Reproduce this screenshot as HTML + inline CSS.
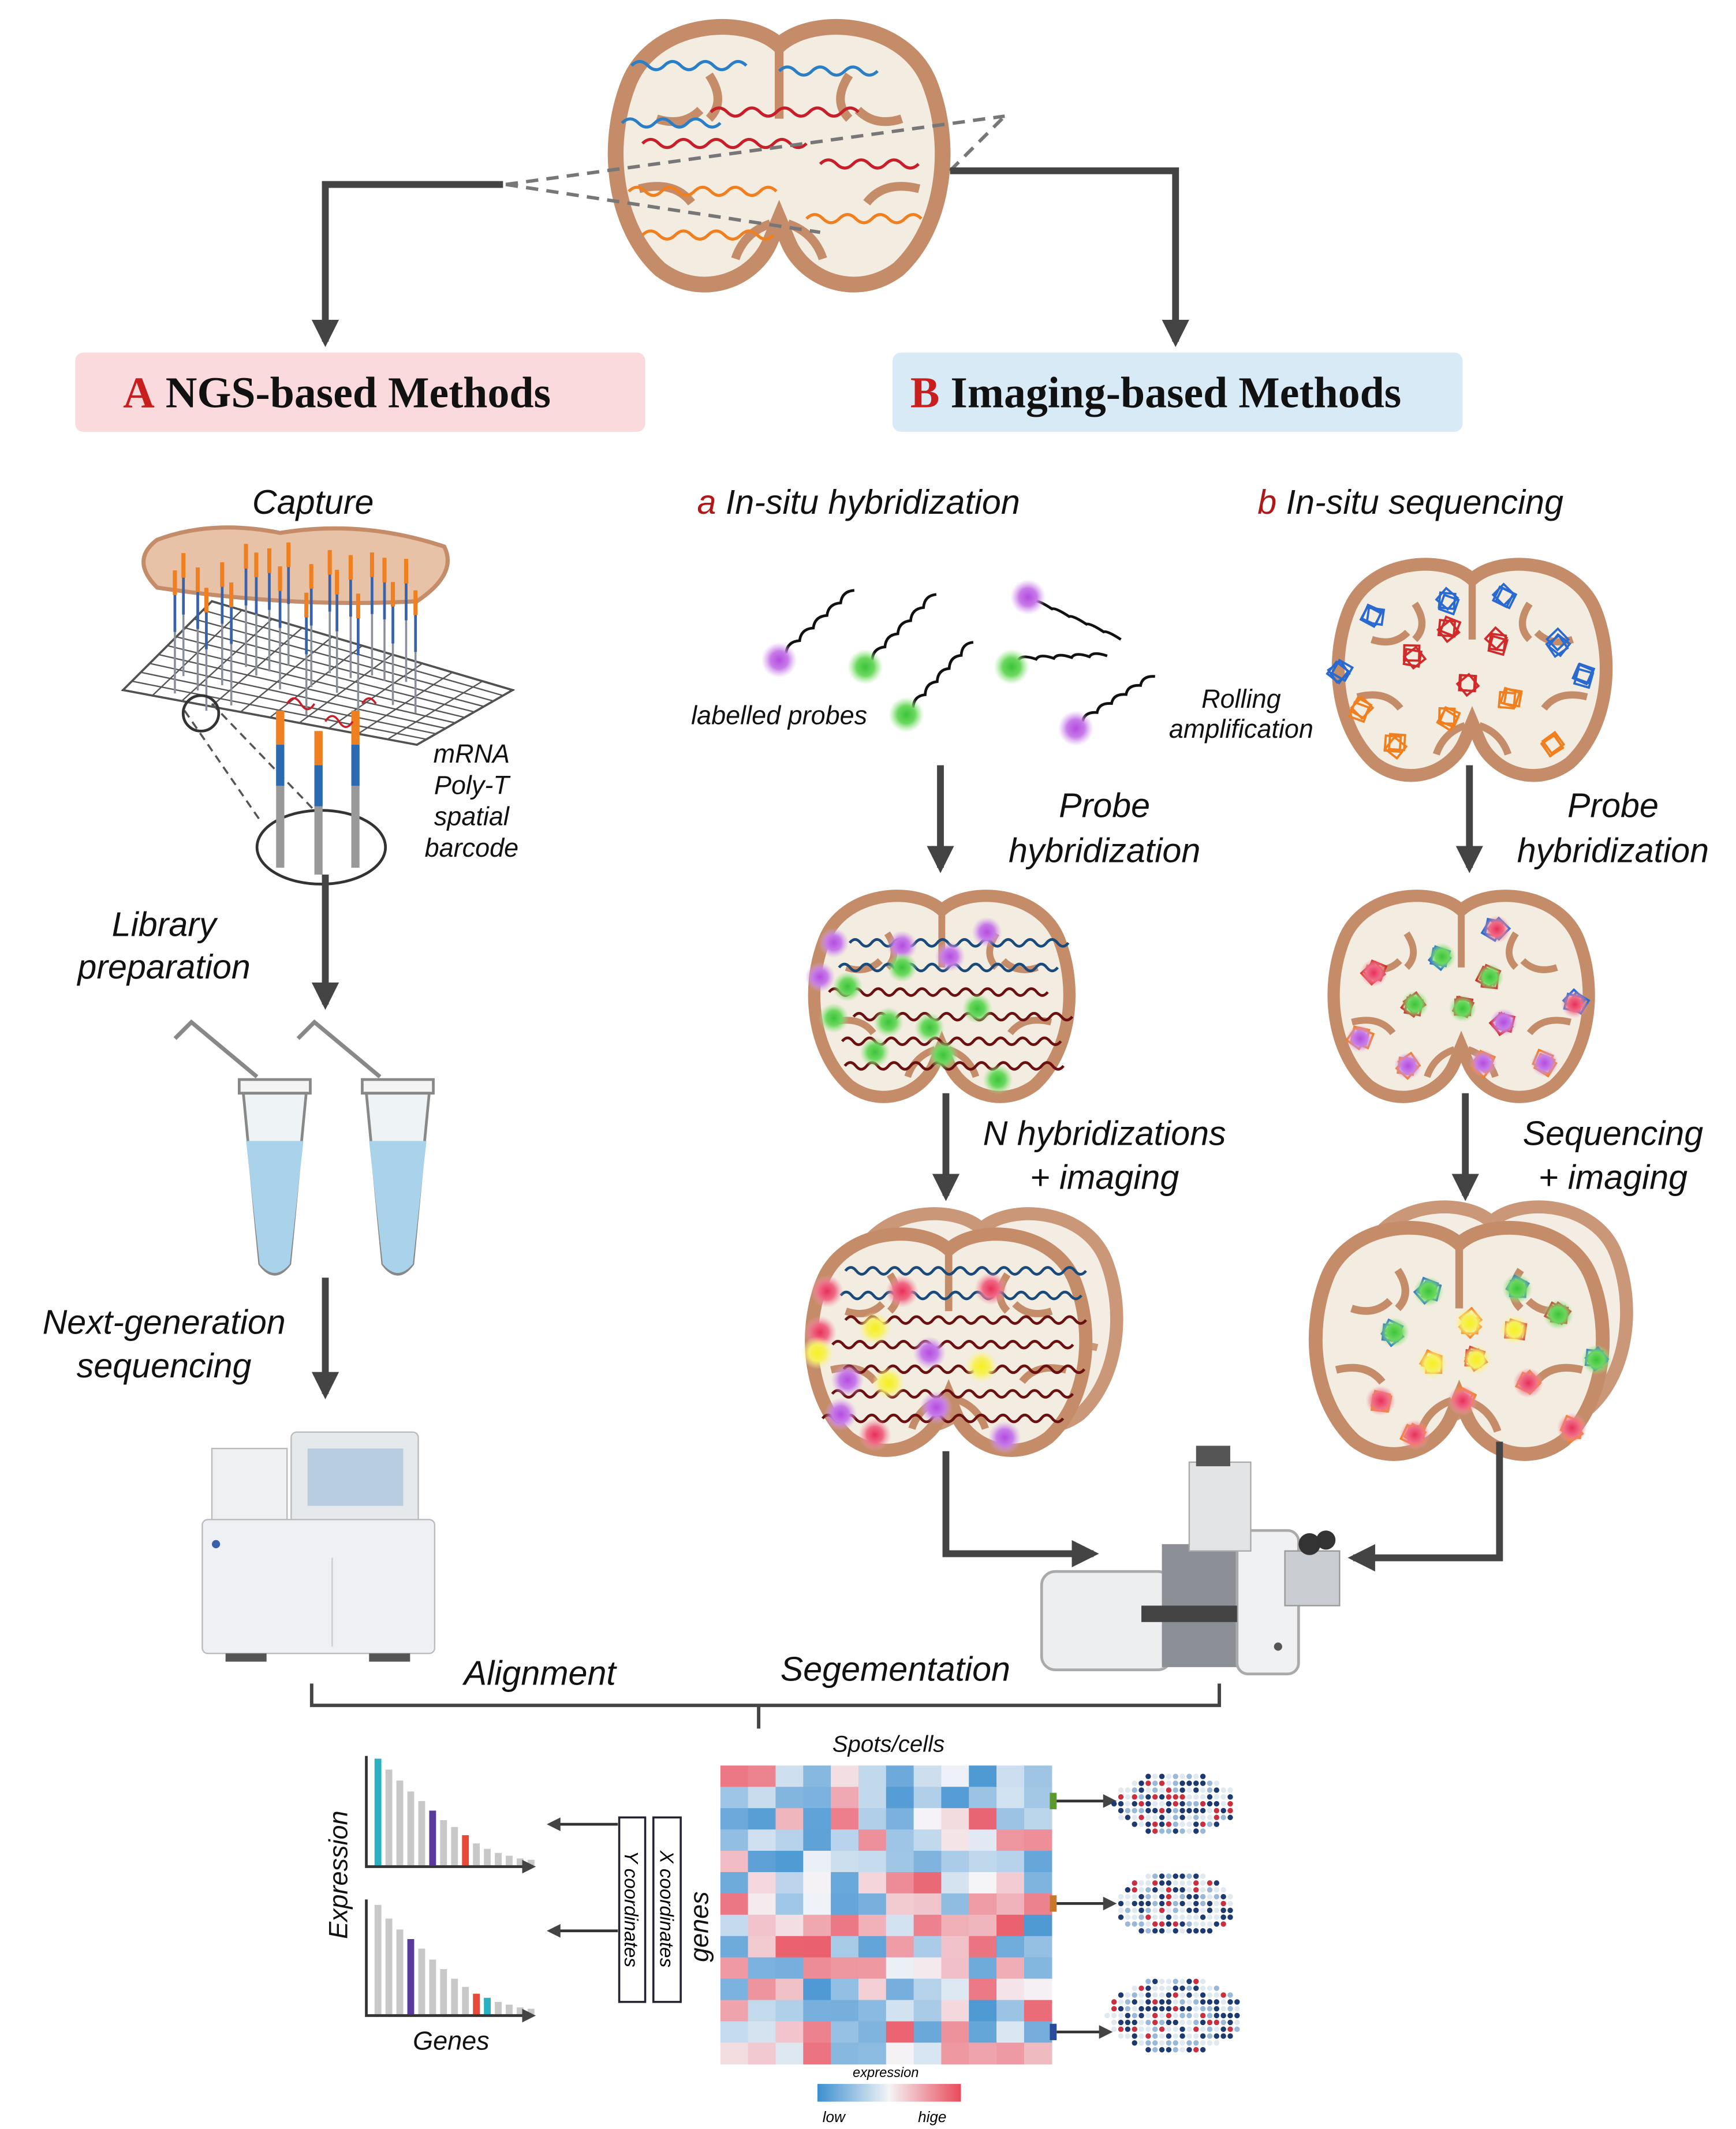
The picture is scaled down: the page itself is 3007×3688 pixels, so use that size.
<!DOCTYPE html>
<html><head><meta charset="utf-8"><style>
html,body{margin:0;padding:0;background:#fff}
svg{display:block}
.h{font-family:"Liberation Sans",sans-serif;font-style:italic;font-size:25px;fill:#111}
.s{font-family:"Liberation Sans",sans-serif;font-style:italic;font-size:19px;fill:#111}
.t{font-family:"Liberation Serif",serif;font-weight:bold;font-size:32px;fill:#111}
</style></head><body>
<svg id="S" width="3007" height="3688" viewBox="0 0 1270 1558" preserveAspectRatio="none" xmlns="http://www.w3.org/2000/svg">
<defs>
<marker id="ar" viewBox="0 0 10 10" refX="8" refY="5" markerWidth="4" markerHeight="4" orient="auto"><path d="M0,0L10,5L0,10z" fill="#444"/></marker>
<marker id="ar2" viewBox="0 0 10 10" refX="8" refY="5" markerWidth="5" markerHeight="5" orient="auto"><path d="M0,0L10,5L0,10z" fill="#444"/></marker>
<radialGradient id="gp"><stop offset="0" stop-color="#b34de0"/><stop offset=".5" stop-color="#c77be8"/><stop offset="1" stop-color="#d9a6f0" stop-opacity="0"/></radialGradient>
<radialGradient id="gg"><stop offset="0" stop-color="#3cc43a"/><stop offset=".5" stop-color="#6bd85f"/><stop offset="1" stop-color="#9be88a" stop-opacity="0"/></radialGradient>
<radialGradient id="gy"><stop offset="0" stop-color="#f5f020"/><stop offset=".5" stop-color="#f7f060"/><stop offset="1" stop-color="#faf5a0" stop-opacity="0"/></radialGradient>
<radialGradient id="gr"><stop offset="0" stop-color="#e8305a"/><stop offset=".5" stop-color="#ef6a85"/><stop offset="1" stop-color="#f5a0b0" stop-opacity="0"/></radialGradient>
<symbol id="brain" viewBox="0 0 200 160">
<path d="M100,18 C80,0 28,4 14,40 C0,76 6,122 32,146 C56,164 86,152 95,130 L100,118 L105,130 C114,152 144,164 168,146 C194,122 200,76 186,40 C172,4 120,0 100,18Z" fill="#f3ece0" stroke="#c58c6a" stroke-width="9"/>
<path d="M100,18 L100,60 M30,60 q15,5 25,-5 M170,60 q-15,5 -25,-5 M20,100 q20,-5 30,8 M180,100 q-20,-5 -30,8 M60,35 q10,15 0,25 M140,35 q-10,15 0,25 M75,140 q5,-15 20,-20 M125,140 q-5,-15 -20,-20" fill="none" stroke="#c58c6a" stroke-width="5"/>
</symbol>
</defs>

<use href="#brain" x="440" y="10" width="260" height="205"/>
<g fill="none" stroke-width="2.2">
<path d="M462,48 q6,-6 12,0 t12,0 t12,0 t12,0 t12,0 t12,0 t12,0" stroke="#2a7ec6"/>
<path d="M570,52 q6,-6 12,0 t12,0 t12,0 t12,0 t12,0 t12,0" stroke="#2a7ec6"/>
<path d="M455,90 q6,-6 12,0 t12,0 t12,0 t12,0 t12,0 t12,0" stroke="#2a7ec6"/>
<path d="M470,105 q6,-6 12,0 t12,0 t12,0 t12,0 t12,0 t12,0 t12,0 t12,0 t12,0 t12,0" stroke="#c81e2a"/>
<path d="M520,82 q6,-6 12,0 t12,0 t12,0 t12,0 t12,0 t12,0 t12,0 t12,0 t12,0" stroke="#c81e2a"/>
<path d="M600,120 q6,-6 12,0 t12,0 t12,0 t12,0 t12,0 t12,0" stroke="#c81e2a"/>
<path d="M460,140 q6,-6 12,0 t12,0 t12,0 t12,0 t12,0 t12,0 t12,0 t12,0 t12,0" stroke="#f07f20"/>
<path d="M470,172 q6,-6 12,0 t12,0 t12,0 t12,0 t12,0 t12,0 t12,0 t12,0" stroke="#f07f20"/>
<path d="M590,160 q6,-6 12,0 t12,0 t12,0 t12,0 t12,0 t12,0 t12,0" stroke="#f07f20"/>
</g>
<path d="M370,135 L735,85 M370,135 L600,170" stroke="#777" stroke-width="2.5" stroke-dasharray="9,6" fill="none"/>
<path d="M695,125 L735,85" stroke="#777" stroke-width="2.5" stroke-dasharray="9,6"/>
<path d="M368,135 H238 V250" stroke="#444" stroke-width="5" fill="none" marker-end="url(#ar)"/>
<path d="M695,125 H860 V250" stroke="#444" stroke-width="5" fill="none" marker-end="url(#ar)"/>

<rect x="55" y="258" width="417" height="58" rx="6" fill="#fadadd"/>
<text x="90" y="298" class="t"><tspan fill="#c81e1e">A</tspan>  NGS-based Methods</text>
<rect x="653" y="258" width="417" height="58" rx="6" fill="#d9eaf7"/>
<text x="666" y="298" class="t"><tspan fill="#c81e1e">B</tspan> Imaging-based Methods</text>

<text x="229" y="376" class="h" text-anchor="middle">Capture</text>
<text x="510" y="376" class="h"><tspan fill="#b01818">a</tspan>  In-situ hybridization</text>
<text x="920" y="376" class="h"><tspan fill="#b01818">b</tspan>  In-situ sequencing</text>

<path d="M90,505 L155,440 L375,505 L305,545 Z" fill="#fff" stroke="#333" stroke-width="1.5"/>
<g id="grid" stroke="#555" stroke-width="1" fill="none"></g>
<path d="M115,395 q40,-15 90,-5 q60,-10 120,10 q10,20 -20,40 q-90,5 -190,-10 q-20,-20 0,-35Z" fill="#e8c2a6" stroke="#c58c6a" stroke-width="3"/>
<g id="pins"></g>
<ellipse cx="235" cy="620" rx="47" ry="27" fill="none" stroke="#333" stroke-width="2"/>
<path d="M135,520 L190,600 M155,515 L230,593" stroke="#555" stroke-width="1.5" stroke-dasharray="6,4"/>
<circle cx="147" cy="522" r="13" fill="none" stroke="#333" stroke-width="2"/>
<g stroke-width="6">
<path d="M205,520 V635" stroke="#999"/><path d="M205,520 V545" stroke="#f07f20"/><path d="M205,545 V575" stroke="#2a6ab0"/>
<path d="M233,535 V640" stroke="#999"/><path d="M233,535 V560" stroke="#f07f20"/><path d="M233,560 V590" stroke="#2a6ab0"/>
<path d="M260,520 V635" stroke="#999"/><path d="M260,520 V545" stroke="#f07f20"/><path d="M260,545 V575" stroke="#2a6ab0"/>
</g>
<path d="M210,515 q5,-8 10,0 t10,0 M238,528 q5,-8 10,0 t10,0 M265,515 q5,-8 10,0" stroke="#c81e2a" stroke-width="1.5" fill="none"/>
<text x="345" y="558" class="s" text-anchor="middle">mRNA</text>
<text x="345" y="581" class="s" text-anchor="middle">Poly-T</text>
<text x="345" y="604" class="s" text-anchor="middle">spatial</text>
<text x="345" y="627" class="s" text-anchor="middle">barcode</text>

<path d="M238,640 V735" stroke="#444" stroke-width="5" marker-end="url(#ar)"/>
<text x="120" y="685" class="h" text-anchor="middle">Library</text>
<text x="120" y="716" class="h" text-anchor="middle">preparation</text>
<g>
<path d="M128,760 l12,-12 l48,40" fill="none" stroke="#888" stroke-width="3"/>
<rect x="175" y="790" width="52" height="10" fill="#f4f4f4" stroke="#888" stroke-width="2"/>
<path d="M178,800 H224 L212,925 Q201,940 190,925 Z" fill="#eef3f6" stroke="#888" stroke-width="2"/>
<path d="M180,835 H222 L212,925 Q201,938 190,925 Z" fill="#a9d3ea"/>
<path d="M218,760 l12,-12 l48,40" fill="none" stroke="#888" stroke-width="3"/>
<rect x="265" y="790" width="52" height="10" fill="#f4f4f4" stroke="#888" stroke-width="2"/>
<path d="M268,800 H314 L302,925 Q291,940 280,925 Z" fill="#eef3f6" stroke="#888" stroke-width="2"/>
<path d="M270,835 H312 L302,925 Q291,938 280,925 Z" fill="#a9d3ea"/>
</g>
<path d="M238,935 V1020" stroke="#444" stroke-width="5" marker-end="url(#ar)"/>
<text x="120" y="976" class="h" text-anchor="middle">Next-generation</text>
<text x="120" y="1008" class="h" text-anchor="middle">sequencing</text>
<rect x="155" y="1060" width="55" height="55" fill="#eef0f2" stroke="#bbb"/>
<rect x="213" y="1048" width="93" height="67" rx="4" fill="#e6e9ec" stroke="#bbb"/>
<rect x="225" y="1060" width="70" height="42" fill="#b9cde0"/>
<rect x="148" y="1112" width="170" height="98" rx="4" fill="#eef0f3" stroke="#bbb"/>
<path d="M243,1140 V1205" stroke="#ccc"/>
<circle cx="158" cy="1130" r="3" fill="#3a5ea8"/>
<rect x="165" y="1210" width="30" height="6" fill="#555"/><rect x="270" y="1210" width="30" height="6" fill="#555"/>

<g id="probes"></g>
<text x="570" y="530" class="s" text-anchor="middle">labelled probes</text>
<text x="908" y="518" class="s" text-anchor="middle">Rolling</text>
<text x="908" y="540" class="s" text-anchor="middle">amplification</text>
<use href="#brain" x="962" y="405" width="230" height="168"/>
<g id="rca1"></g>

<path d="M688,560 V635" stroke="#444" stroke-width="5" marker-end="url(#ar)"/>
<path d="M1075,560 V635" stroke="#444" stroke-width="5" marker-end="url(#ar)"/>
<text x="808" y="598" class="h" text-anchor="middle">Probe</text>
<text x="808" y="631" class="h" text-anchor="middle">hybridization</text>
<text x="1180" y="598" class="h" text-anchor="middle">Probe</text>
<text x="1180" y="631" class="h" text-anchor="middle">hybridization</text>

<use href="#brain" x="580" y="648" width="218" height="160"/>
<use href="#brain" x="968" y="648" width="202" height="160"/>
<g id="m1"></g><g id="m2"></g>

<path d="M692,800 V875" stroke="#444" stroke-width="5" marker-end="url(#ar)"/>
<path d="M1072,800 V875" stroke="#444" stroke-width="5" marker-end="url(#ar)"/>
<text x="808" y="838" class="h" text-anchor="middle">N hybridizations</text>
<text x="808" y="870" class="h" text-anchor="middle">+ imaging</text>
<text x="1180" y="838" class="h" text-anchor="middle">Sequencing</text>
<text x="1180" y="870" class="h" text-anchor="middle">+ imaging</text>

<use href="#brain" x="612" y="880" width="212" height="170" opacity="0.9"/>
<use href="#brain" x="583" y="895" width="222" height="172"/>
<use href="#brain" x="985" y="875" width="212" height="170" opacity="0.9"/>
<use href="#brain" x="955" y="890" width="225" height="180"/>
<g id="m3"></g><g id="m4"></g>

<path d="M692,1062 V1137 H800" stroke="#444" stroke-width="5" fill="none" marker-end="url(#ar)"/>
<path d="M1097,1055 V1140 H990" stroke="#444" stroke-width="5" fill="none" marker-end="url(#ar)"/>
<rect x="762" y="1150" width="95" height="72" rx="10" fill="#eceef0" stroke="#aaa" stroke-width="2"/>
<rect x="850" y="1130" width="65" height="90" fill="#8c9096"/>
<rect x="905" y="1120" width="45" height="105" rx="8" fill="#f0f1f2" stroke="#aaa" stroke-width="2"/>
<rect x="870" y="1070" width="45" height="65" fill="#e2e4e6" stroke="#aaa"/>
<rect x="875" y="1058" width="25" height="15" fill="#555"/>
<rect x="940" y="1135" width="40" height="40" fill="#c9ccd0" stroke="#999"/>
<circle cx="958" cy="1130" r="8" fill="#333"/><circle cx="970" cy="1127" r="7" fill="#333"/>
<rect x="835" y="1175" width="70" height="12" fill="#444"/>
<circle cx="935" cy="1205" r="3" fill="#555"/>

<path d="M228,1232 V1248 H892 V1232 M555,1248 V1265" stroke="#444" stroke-width="2.5" fill="none"/>
<text x="395" y="1233" class="h" text-anchor="middle">Alignment</text>
<text x="655" y="1230" class="h" text-anchor="middle">Segementation</text>

<g id="bars"></g>
<path d="M268,1285 V1366 H390" stroke="#333" stroke-width="2" fill="none" marker-end="url(#ar2)"/>
<path d="M268,1390 V1475 H390" stroke="#333" stroke-width="2" fill="none" marker-end="url(#ar2)"/>
<text transform="translate(254,1372) rotate(-90)" class="s" text-anchor="middle">Expression</text>
<text x="330" y="1500" class="s" text-anchor="middle">Genes</text>
<path d="M452,1335 H402" stroke="#333" stroke-width="2" marker-end="url(#ar2)"/>
<path d="M452,1413 H402" stroke="#333" stroke-width="2" marker-end="url(#ar2)"/>
<rect x="453" y="1330" width="19" height="135" fill="#fff" stroke="#223" stroke-width="1.5"/>
<rect x="478" y="1330" width="20" height="135" fill="#fff" stroke="#223" stroke-width="1.5"/>
<text transform="translate(457,1397) rotate(90)" style="font:italic 14px 'Liberation Sans',sans-serif" text-anchor="middle">Y coordinates</text>
<text transform="translate(483,1397) rotate(90)" style="font:italic 14px 'Liberation Sans',sans-serif" text-anchor="middle">X coordinates</text>
<text transform="translate(518,1410) rotate(-90)" class="s" text-anchor="middle">genes</text>
<text x="650" y="1282" class="s" text-anchor="middle" style="font-size:17px">Spots/cells</text>
<g id="heat"></g>
<defs><linearGradient id="cb"><stop offset="0" stop-color="#3c8fd0"/><stop offset=".5" stop-color="#f4f4f6"/><stop offset="1" stop-color="#e84a5a"/></linearGradient></defs>
<rect x="598" y="1525" width="105" height="13" fill="url(#cb)"/>
<text x="648" y="1520" style="font:italic 10px 'Liberation Sans',sans-serif" text-anchor="middle">expression</text>
<text x="610" y="1553" style="font:italic 11px 'Liberation Sans',sans-serif" text-anchor="middle">low</text>
<text x="682" y="1553" style="font:italic 11px 'Liberation Sans',sans-serif" text-anchor="middle">hige</text>
<rect x="768" y="1312" width="5" height="12" fill="#5a9a2a"/>
<rect x="768" y="1387" width="5" height="12" fill="#c8782a"/>
<rect x="768" y="1481" width="5" height="12" fill="#2a4a9a"/>
<path d="M773,1318 H815" stroke="#333" stroke-width="2" marker-end="url(#ar2)"/>
<path d="M773,1393 H815" stroke="#333" stroke-width="2" marker-end="url(#ar2)"/>
<path d="M773,1487 H812" stroke="#333" stroke-width="2" marker-end="url(#ar2)"/>
<g id="spots"></g>
</svg>
<script>
var N="http://www.w3.org/2000/svg";
function el(p,t,a){var e=document.createElementNS(N,t);for(var k in a)e.setAttribute(k,a[k]);document.getElementById(p).appendChild(e);return e;}
var s=7;function r(){s=(s*9301+49297)%233280;return s/233280;}
for(var i=0;i<=10;i++){var t=i/10;el("grid","line",{x1:90+65*t,y1:505-65*t,x2:305+70*t,y2:545-40*t});el("grid","line",{x1:90+215*t,y1:505+40*t,x2:155+220*t,y2:440+65*t});}
for(i=0;i<22;i++){var x=125+i*8.5+r()*6,y=395+r()*40;el("pins","line",{x1:x,y1:y,x2:x,y2:y+90,stroke:"#8a8f99","stroke-width":1.5});el("pins","line",{x1:x,y1:y,x2:x,y2:y+18,stroke:"#f07f20","stroke-width":3});el("pins","line",{x1:x,y1:y+18,x2:x,y2:y+45,stroke:"#3a62a8","stroke-width":2});}
function wav(g,x,y,n,c,dy){var d="M"+x+","+y;for(var k=0;k<n;k++)d+=" q4,"+(-5)+" 8,"+(dy||0)+" q4,5 8,0";el(g,"path",{d:d,fill:"none",stroke:c,"stroke-width":2});}
var P=[[570,483,"gp",[575,478,625,432]],[633,488,"gg",[638,483,685,435]],[663,523,"gg",[668,518,712,470]],[740,488,"gg",[745,483,810,480]],[752,437,"gp",[757,440,820,468]],[787,533,"gp",[792,528,845,495]]];
P.forEach(function(p){var a=p[3];var d="M"+a[0]+","+a[1];var n=5,dx=(a[2]-a[0])/n,dy=(a[3]-a[1])/n;for(var k=0;k<n;k++){d+=" q"+(dx/2-4)+","+(dy/2-4)+" "+dx+","+dy;}el("probes","path",{d:d,fill:"none",stroke:"#111","stroke-width":2});el("probes","circle",{cx:p[0],cy:p[1],r:13,fill:"url(#"+p[2]+")"});});
function knot(g,x,y,c){for(var k=0;k<3;k++)el(g,"rect",{x:x-8+r()*5,y:y-8+r()*5,width:11,height:11,fill:"none",stroke:c,"stroke-width":1.6,transform:"rotate("+(r()*60)+" "+x+" "+y+")"});}
[[1005,450,"#2a6ad0"],[1060,440,"#2a6ad0"],[1100,437,"#2a6ad0"],[1140,470,"#2a6ad0"],[1158,495,"#2a6ad0"],[1058,460,"#d02a2a"],[1095,470,"#d02a2a"],[1035,480,"#d02a2a"],[1075,500,"#d02a2a"],[1105,512,"#f07f20"],[995,520,"#f07f20"],[1020,545,"#f07f20"],[1060,525,"#f07f20"],[1135,545,"#f07f20"],[980,490,"#2a6ad0"]].forEach(function(k){knot("rca1",k[0],k[1],k[2]);});
for(i=0;i<6;i++){wav("m1",605+r()*20,690+i*18,10,i<2?"#1a4a7a":"#6a1010");}
[[610,690,"gp"],[660,692,"gp"],[695,700,"gp"],[722,682,"gp"],[600,715,"gp"],[620,722,"gg"],[660,708,"gg"],[610,745,"gg"],[650,748,"gg"],[680,752,"gg"],[715,738,"gg"],[640,770,"gg"],[690,772,"gg"],[730,790,"gg"]].forEach(function(c){el("m1","circle",{cx:c[0],cy:c[1],r:11,fill:"url(#"+c[2]+")"});});
[[1005,712,"gr","#d02a2a"],[1055,700,"gg","#2a6ad0"],[1095,680,"gr","#2a6ad0"],[1035,735,"gg","#d02a2a"],[1070,738,"gg","#d02a2a"],[1090,715,"gg","#d02a2a"],[1152,735,"gr","#2a6ad0"],[1100,748,"gp","#d02a2a"],[995,760,"gp","#f07f20"],[1030,780,"gp","#f07f20"],[1085,778,"gp","#f07f20"],[1130,778,"gp","#f07f20"]].forEach(function(c){knot("m2",c[0],c[1],c[3]);el("m2","circle",{cx:c[0],cy:c[1],r:10,fill:"url(#"+c[2]+")"});});
for(i=0;i<7;i++){wav("m3",600+r()*20,930+i*18,11,i<2?"#1a4a7a":"#6a1010");}
[[605,945,"gr"],[660,945,"gr"],[725,943,"gr"],[600,975,"gr"],[640,972,"gy"],[680,990,"gp"],[598,990,"gy"],[620,1010,"gp"],[650,1012,"gy"],[718,1000,"gy"],[615,1035,"gp"],[685,1030,"gp"],[735,1052,"gp"],[640,1050,"gr"]].forEach(function(c){el("m3","circle",{cx:c[0],cy:c[1],r:12,fill:"url(#"+c[2]+")"});});
[[1045,945,"gg","#2a6ad0"],[1110,943,"gg","#2a6ad0"],[1140,962,"gg","#d02a2a"],[1020,975,"gg","#2a6ad0"],[1075,968,"gy","#f07f20"],[1108,973,"gy","#d02a2a"],[1048,998,"gy","#f07f20"],[1080,995,"gy","#d02a2a"],[1168,995,"gg","#2a6ad0"],[1118,1012,"gr","#f07f20"],[1010,1025,"gr","#f07f20"],[1070,1025,"gr","#f07f20"],[1035,1050,"gr","#f07f20"],[1150,1045,"gr","#f07f20"]].forEach(function(c){knot("m4",c[0],c[1],c[3]);el("m4","circle",{cx:c[0],cy:c[1],r:11,fill:"url(#"+c[2]+")"});});
function bars(y0,hs,cols){hs.forEach(function(h,k){el("bars","rect",{x:274+k*8,y:y0-h,width:5,height:h,fill:cols[k]||"#c8c8c8"});});}
bars(1365,[78,70,62,54,47,40,33,28,22,16,12,9,7,5,4],{0:"#2ab0c0",5:"#5a3a9a",8:"#e84a3a"});
bars(1474,[80,70,62,55,48,40,33,26,20,15,12,9,7,5,4],{3:"#5a3a9a",9:"#e84a3a",10:"#2ab0c0"});
function hc(v){var a,b,c;if(v<0){var t=-v;a=Math.round(245-(245-60)*t);b=Math.round(245-(245-143)*t);c=Math.round(248-(248-208)*t);}else{var t=v;a=Math.round(245-(245-232)*t);b=Math.round(245-(245-74)*t);c=Math.round(248-(248-90)*t);}return "rgb("+a+","+b+","+c+")";}
for(var rr=0;rr<14;rr++)for(var cc=0;cc<12;cc++){var v=r()*2-1;if(rr<5&&r()<.4)v=-Math.abs(v);el("heat","rect",{x:527+cc*20.2,y:1292+rr*15.6,width:20.5,height:16,fill:hc(v*0.9)});}
function sm(cx,cy,w,h){for(var yy=0;yy<h;yy+=5)for(var xx=0;xx<w;xx+=5){var nx=(xx-w/2)/(w/2),ny=(yy-h/2)/(h/2);if(nx*nx+ny*ny*1.2>1)continue;var q=r();var col=q<.3?"#1c3a70":q<.5?"#c83040":q<.7?"#9ab8d8":"#e0e8f0";el("spots","circle",{cx:cx-w/2+xx,cy:cy-h/2+yy,r:2,fill:col});}}
sm(860,1320,90,50);sm(860,1394,90,52);sm(860,1475,100,60);
</script>
</body></html>
